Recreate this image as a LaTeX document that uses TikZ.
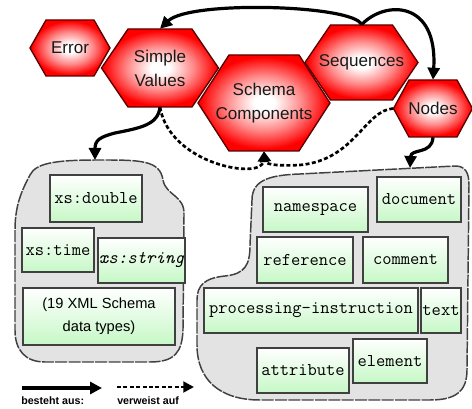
\documentclass[tikz,border=0pt]{standalone}
\usepackage{fontspec}
\setsansfont{Liberation Sans}
\usetikzlibrary{arrows.meta}

% glowing red fill of the hexagons
\pgfdeclareradialshading{hexglow}{\pgfpointorigin}{color(0bp)=(white); color(4bp)=(white); color(14bp)=(red!45!white); color(24bp)=(red); color(50bp)=(red)}
\definecolor{mint}{RGB}{198,248,198}

% \hexa{name}{cx}{cy}{half width}{half height}{half top edge}{label}
\newcommand\hexa[7]{%
  \path[hexface] (#2-#4,#3) -- (#2-#6,#3-#5) -- (#2+#6,#3-#5) -- (#2+#4,#3)
     -- (#2+#6,#3+#5) -- (#2-#6,#3+#5) -- cycle;
  \node[hexlabel, minimum width=2*#4*0.75pt, minimum height=2*#5*0.75pt] (#1) at (#2,#3) {#7};}

\tikzset{
  hexface/.style={shading=hexglow, draw=red!35!black, line width=1pt},
  hexlabel/.style={inner sep=0pt, align=center, text=black!90,
    font=\sffamily\fontsize{12.8}{18}\selectfont},
  gbox/.style={draw=black!75, line width=0.9pt, top color=white, bottom color=mint,
    inner sep=0pt, font=\ttfamily\fontsize{13.5}{16}\selectfont},
  sz/.style 2 args={minimum width=#1*0.75pt, minimum height=#2*0.75pt},
  cloud/.style={fill=gray!22, draw=black!75, line width=1.1pt, dash pattern=on 9pt off 1pt},
  hasparts/.style={line width=2.4pt, -{Triangle[length=9pt,width=9pt]}},
  refers/.style={line width=2pt, dash pattern=on 3pt off 1.8pt, -{Triangle[length=8pt,width=8pt]}},
  legendtext/.style={inner sep=0pt, font=\sffamily\bfseries\fontsize{8}{9}\selectfont}
}

\begin{document}
\begin{tikzpicture}[x=0.75pt, y=-0.75pt]
\useasboundingbox (0,0) rectangle (472,409);

% the two groups
\draw[cloud] (30,175) .. controls (36,162) and (60,160) .. (100,160)
  .. controls (140,160) and (160,160) .. (163,180)
  .. controls (166,196) and (185,195) .. (184,215) -- (183,330)
  .. controls (182,352) and (175,362) .. (150,362) -- (45,362)
  .. controls (25,362) and (15,350) .. (15,330) -- (15,230)
  .. controls (15,205) and (22,190) .. (30,175) -- cycle;
\draw[cloud] (252,200) .. controls (252,180) and (270,175) .. (300,174) -- (455,166)
  .. controls (465,166) and (469,172) .. (469,185) -- (467,370)
  .. controls (467,392) and (455,400) .. (430,400) -- (260,400)
  .. controls (220,400) and (197,380) .. (197,345) -- (197,300)
  .. controls (197,285) and (205,278) .. (225,276)
  .. controls (245,274) and (250,265) .. (250,245) -- cycle;
\coordinate (simplegroup) at (95,160);
\coordinate (nodegroup) at (410,168);

% simple values
\node[gbox, sz={92}{47}] (double) at (96,198.5) {xs:double};
\node[gbox, sz={72}{44}] (time) at (58,250) {xs:time};
\node[gbox, sz={87}{45}] (string) at (141.5,260.5) {\itshape xs:string};
\node[gbox, sz={152}{57}, align=center, font=\sffamily\fontsize{11}{17}\selectfont] (types) at (99,316.5) {(19 XML Schema\\data types)};

% node kinds
\node[gbox, sz={105}{45}] (namespace) at (315.5,209.5) {namespace};
\node[gbox, sz={84}{45}] (document) at (419,199.5) {document};
\node[gbox, sz={96}{46}] (reference) at (305,260) {reference};
\node[gbox, sz={85}{46}] (comment) at (405.5,260) {comment};
\node[gbox, sz={214}{45}] (pi) at (311,310.5) {processing-instruction};
\node[gbox, sz={40}{45}] (text) at (441,310.5) {text};
\node[gbox, sz={92}{45}] (attribute) at (303,370.5) {attribute};
\node[gbox, sz={74}{44}] (element) at (390,361) {element};

% hexagons
\hexa{error}{70}{48}{40}{28}{24}{Error}
\hexa{simple}{160}{68}{58.5}{39}{32}{Simple\\Values}
\hexa{seq}{361.5}{62.5}{56.5}{37.5}{31}{Sequences}
\hexa{schema}{264}{103}{66}{48}{35}{Schema\\Components}
\hexa{nodes}{433}{108.5}{39.5}{28.5}{24}{Nodes}

% consists of
\draw[hasparts] (seq.north) .. controls (355,5) and (190,0) .. (simple.north);
\draw[hasparts] (seq.north) .. controls (385,0) and (438,0) .. (nodes.north);
\draw[hasparts] (simple.south) .. controls (158,125) and (140,128) .. (115,133)
  .. controls (100,137) and (95,140) .. (simplegroup);
\draw[hasparts] (nodes.south) .. controls (432,155) and (411,148) .. (nodegroup);

% refers to
\draw[refers] (simple.south) .. controls (170,165) and (262,180) .. (schema.south);
\draw[refers] (nodes.west) .. controls (365,110) and (355,160) .. (300,165)
  .. controls (280,166) and (266,165) .. (schema.south);

% legend
\coordinate (l1a) at (22,388); \coordinate (l1b) at (102,388);
\coordinate (l2a) at (117,387); \coordinate (l2b) at (194,387);
\draw[hasparts] (l1a) -- (l1b);
\draw[refers] (l2a) -- (l2b);
\node[legendtext, anchor=north west] (l1t) at (21,397) {besteht aus:};
\node[legendtext, anchor=north west] (l2t) at (117,397) {verweist auf};
\end{tikzpicture}
\end{document}
